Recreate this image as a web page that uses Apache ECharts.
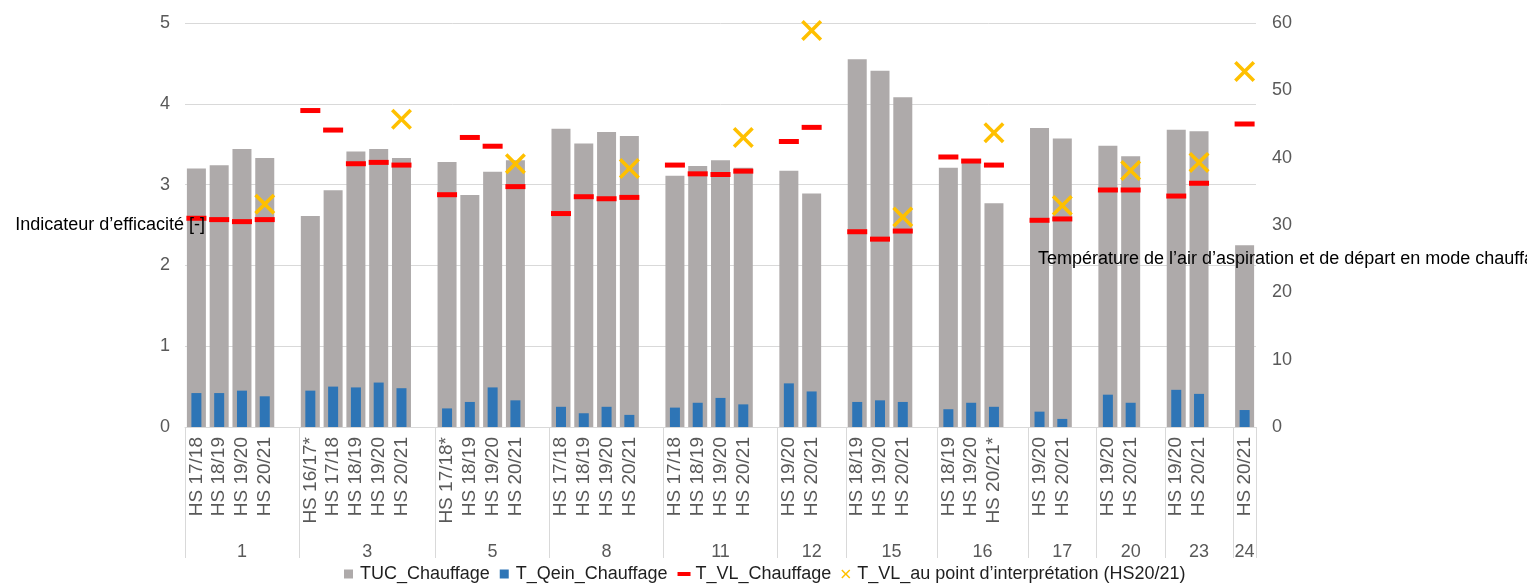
<!DOCTYPE html>
<html>
<head>
<meta charset="utf-8">
<script src="https://cdn.jsdelivr.net/npm/echarts@6/dist/echarts.min.js"></script>
<style>
  html, body { margin: 0; padding: 0; background: #ffffff; }
  #chart { width: 1527px; height: 585px; }
</style>
</head>
<body>
<div id="chart"></div>
<script>
// Installations (outer category level)
const groups = ['1', '3', '5', '8', '11', '12', '15', '16', '17', '20', '23', '24'];

// Heating seasons measured per installation (inner category level)
const seasons = [
  ['HS 17/18', 'HS 18/19', 'HS 19/20', 'HS 20/21'],
  ['HS 16/17*', 'HS 17/18', 'HS 18/19', 'HS 19/20', 'HS 20/21'],
  ['HS 17/18*', 'HS 18/19', 'HS 19/20', 'HS 20/21'],
  ['HS 17/18', 'HS 18/19', 'HS 19/20', 'HS 20/21'],
  ['HS 17/18', 'HS 18/19', 'HS 19/20', 'HS 20/21'],
  ['HS 19/20', 'HS 20/21'],
  ['HS 18/19', 'HS 19/20', 'HS 20/21'],
  ['HS 18/19', 'HS 19/20', 'HS 20/21*'],
  ['HS 19/20', 'HS 20/21'],
  ['HS 19/20', 'HS 20/21'],
  ['HS 19/20', 'HS 20/21'],
  ['HS 20/21']
];

// TUC_Chauffage [-]
const tucChauffage = [
  [3.20, 3.24, 3.44, 3.33],
  [2.61, 2.93, 3.41, 3.44, 3.33],
  [3.28, 2.87, 3.16, 3.30],
  [3.69, 3.51, 3.65, 3.60],
  [3.11, 3.23, 3.30, 3.21],
  [3.17, 2.89],
  [4.55, 4.41, 4.08],
  [3.21, 3.27, 2.77],
  [3.70, 3.57],
  [3.48, 3.35],
  [3.68, 3.66],
  [2.25]
];

// T_Qein_Chauffage [-]
const qeinChauffage = [
  [0.42, 0.42, 0.45, 0.38],
  [0.45, 0.50, 0.49, 0.55, 0.48],
  [0.23, 0.31, 0.49, 0.33],
  [0.25, 0.17, 0.25, 0.15],
  [0.24, 0.30, 0.36, 0.28],
  [0.54, 0.44],
  [0.31, 0.33, 0.31],
  [0.22, 0.30, 0.25],
  [0.19, 0.10],
  [0.40, 0.30],
  [0.46, 0.41],
  [0.21]
];

// T_VL_Chauffage [°C]
const tVLChauffage = [
  [31.0, 30.8, 30.5, 30.8],
  [47.0, 44.1, 39.1, 39.3, 38.9],
  [34.5, 43.0, 41.7, 35.7],
  [31.7, 34.2, 33.9, 34.1],
  [38.9, 37.6, 37.5, 38.0],
  [42.4, 44.5],
  [29.0, 27.9, 29.1],
  [40.1, 39.5, 38.9],
  [30.7, 30.9],
  [35.2, 35.2],
  [34.3, 36.2],
  [45.0]
];

// T_VL at the design point (HS20/21) [°C]
const tVLDesign = [
  [null, null, null, 33.1],
  [null, null, null, null, 45.7],
  [null, null, null, 39.1],
  [null, null, null, 38.4],
  [null, null, null, 43.0],
  [null, 58.9],
  [null, null, 31.2],
  [null, null, 43.7],
  [null, 32.9],
  [null, 38.1],
  [null, 39.3],
  [52.8]
];

const leftTicks = [0, 1, 2, 3, 4, 5];
const rightTicks = [0, 10, 20, 30, 40, 50, 60];

// Flatten the two-level categories; an empty slot separates installations
const categoryLabels = [];
const tucData = [], qeinData = [], vlData = [], vlDesignData = [];
const groupRanges = [];
const toVal = v => (v === null || v === undefined ? '-' : v);
groups.forEach((g, gi) => {
  const start = categoryLabels.length;
  seasons[gi].forEach((s, i) => {
    categoryLabels.push(s);
    tucData.push(toVal(tucChauffage[gi][i]));
    qeinData.push(toVal(qeinChauffage[gi][i]));
    vlData.push(toVal(tVLChauffage[gi][i]));
    vlDesignData.push(toVal(tVLDesign[gi][i]));
  });
  if (gi < groups.length - 1) {
    categoryLabels.push('');
    tucData.push('-'); qeinData.push('-'); vlData.push('-'); vlDesignData.push('-');
  }
  groupRanges.push([start, categoryLabels.length]);
});
const groupStarts = new Set(groupRanges.map(r => r[0]));

// Half-slot axis used to centre the installation names under their block
const halfSlots = new Array(categoryLabels.length * 2 + 1).fill('');
groupRanges.forEach((r, gi) => { halfSlots[r[0] + r[1]] = groups[gi]; });

const FONT = '"Liberation Sans", Arial, sans-serif';
const GRID_COLOR = '#d9d9d9';
const LABEL_COLOR = '#595959';

const crossPath = 'path://M0,12 L12,0 L50,38 L88,0 L100,12 L62,50 L100,88 L88,100 L50,62 L12,100 L0,88 L38,50 Z';

const chart = echarts.init(document.getElementById('chart'), null, { renderer: 'canvas' });

chart.setOption({
  animation: false,
  backgroundColor: '#ffffff',
  textStyle: { fontFamily: FONT },
  grid: { left: 185, right: 271, top: 23, bottom: 158, containLabel: false, outerBoundsMode: 'none' },
  legend: {
    left: 339,
    top: 560,
    itemWidth: 13,
    itemHeight: 9,
    itemGap: 10,
    textStyle: { fontFamily: FONT, fontSize: 18, color: '#1f1f1f' },
    data: [
      { name: 'TUC_Chauffage', icon: 'path://M0,0 H8 V8 H0 Z' },
      { name: 'T_Qein_Chauffage', icon: 'path://M0,0 H8 V8 H0 Z' },
      { name: 'T_VL_Chauffage', icon: 'path://M0,0 H13 V4 H0 Z' },
      { name: 'T_VL_au point d’interprétation (HS20/21)', icon: crossPath }
    ]
  },
  xAxis: [
    {
      type: 'category',
      position: 'bottom',
      data: categoryLabels,
      axisLine: { show: true, lineStyle: { color: GRID_COLOR, width: 1 } },
      axisTick: {
        show: true,
        interval: (index) => groupStarts.has(index),
        length: 131,
        lineStyle: { color: GRID_COLOR, width: 1 }
      },
      axisLabel: {
        interval: 0,
        rotate: 90,
        margin: 10,
        fontFamily: FONT,
        fontSize: 19,
        color: LABEL_COLOR
      },
      splitLine: { show: false }
    },
    {
      type: 'category',
      position: 'bottom',
      offset: 108,
      boundaryGap: false,
      data: halfSlots,
      axisLine: { show: false },
      axisTick: { show: false },
      axisLabel: {
        interval: 0,
        margin: 8,
        fontFamily: FONT,
        fontSize: 18,
        color: LABEL_COLOR
      },
      splitLine: { show: false }
    },
    {
      type: 'category',
      position: 'bottom',
      show: false,
      data: categoryLabels
    }
  ],
  yAxis: [
    {
      type: 'value',
      position: 'left',
      min: leftTicks[0],
      max: leftTicks[leftTicks.length - 1],
      interval: 1,
      axisLine: { show: false },
      axisTick: { show: false },
      axisLabel: { margin: 15, fontFamily: FONT, fontSize: 18, color: LABEL_COLOR },
      splitLine: { show: true, lineStyle: { color: GRID_COLOR, width: 1 } }
    },
    {
      type: 'value',
      position: 'right',
      min: rightTicks[0],
      max: rightTicks[rightTicks.length - 1],
      interval: 10,
      z: 10,
      // leading empty line drops the title below the middle of the axis
      name: '\nTempérature de l’air d’aspiration et de départ en mode chauffage',
      nameLocation: 'middle',
      nameRotate: 0,
      nameGap: -218,
      nameMoveOverlap: false,
      nameTextStyle: { fontFamily: FONT, fontSize: 18, color: '#000000', lineHeight: 68 },
      axisLine: { show: false },
      axisTick: { show: false },
      axisLabel: { margin: 16, fontFamily: FONT, fontSize: 18, color: LABEL_COLOR },
      splitLine: { show: false }
    },
    {
      type: 'value',
      position: 'left',
      min: leftTicks[0],
      max: leftTicks[leftTicks.length - 1],
      z: 10,
      name: 'Indicateur d’efficacité [-]',
      nameLocation: 'middle',
      nameRotate: 0,
      nameGap: -20,
      nameMoveOverlap: false,
      nameTextStyle: { fontFamily: FONT, fontSize: 18, color: '#000000' },
      axisLine: { show: false },
      axisTick: { show: false },
      axisLabel: { show: false },
      splitLine: { show: false }
    }
  ],
  series: [
    {
      name: 'TUC_Chauffage',
      type: 'bar',
      xAxisIndex: 0,
      yAxisIndex: 0,
      barWidth: 19,
      itemStyle: { color: '#aeaaaa' },
      data: tucData
    },
    {
      name: 'T_Qein_Chauffage',
      type: 'bar',
      xAxisIndex: 2,
      yAxisIndex: 0,
      barWidth: 10,
      itemStyle: { color: '#2e75b6' },
      data: qeinData
    },
    {
      name: 'T_VL_Chauffage',
      type: 'scatter',
      xAxisIndex: 0,
      yAxisIndex: 1,
      symbol: 'rect',
      symbolSize: [20, 5],
      itemStyle: { color: '#ff0000', opacity: 1 },
      data: vlData
    },
    {
      name: 'T_VL_au point d’interprétation (HS20/21)',
      type: 'scatter',
      xAxisIndex: 0,
      yAxisIndex: 1,
      symbol: crossPath,
      symbolSize: 21,
      itemStyle: { color: '#ffc000', opacity: 1 },
      data: vlDesignData
    }
  ]
});
</script>
</body>
</html>
